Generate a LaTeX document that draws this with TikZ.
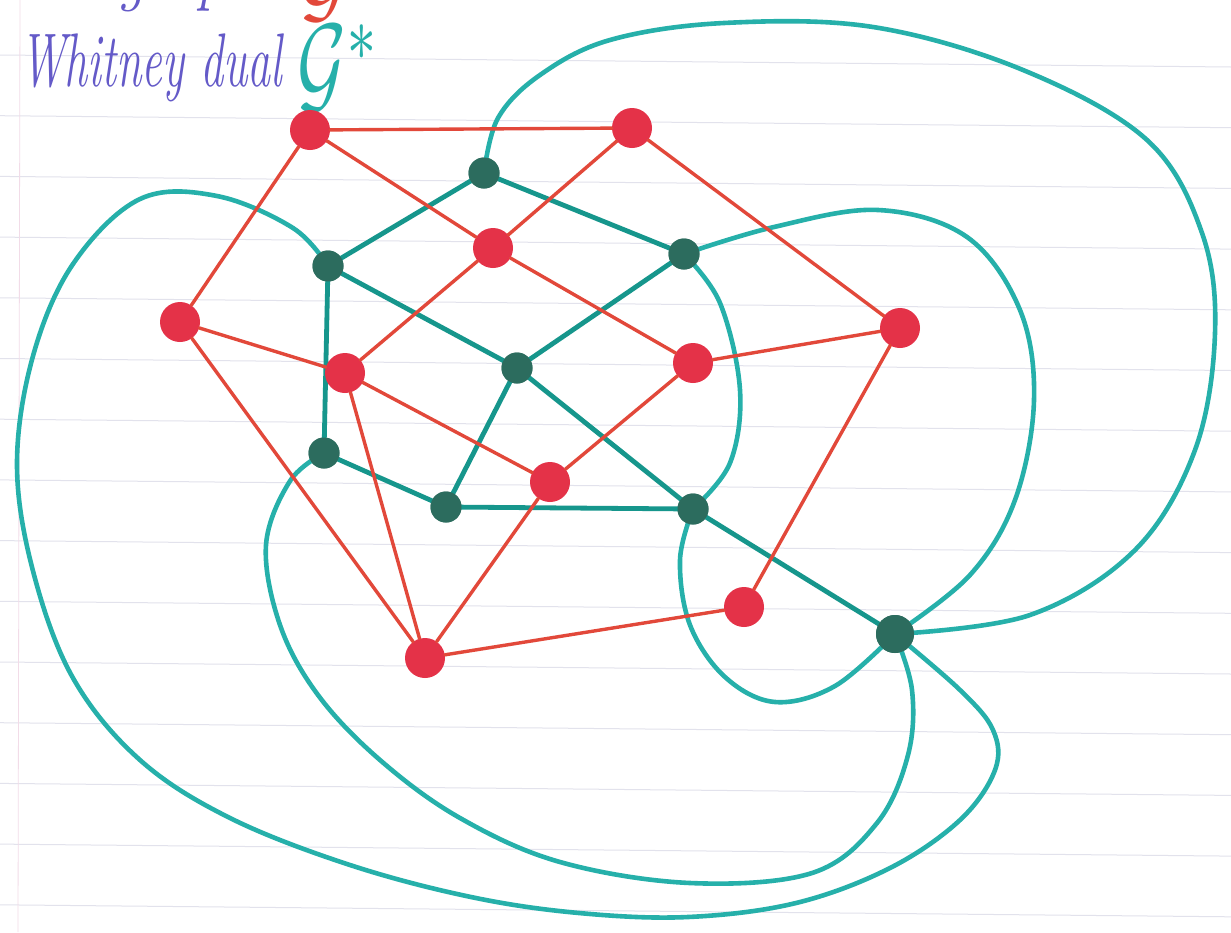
\documentclass[tikz,border=0pt]{standalone}
\usetikzlibrary{calc}
\definecolor{rednode}{RGB}{228,50,72}
\definecolor{redline}{RGB}{226,72,58}
\definecolor{greennode}{RGB}{44,108,94}
\definecolor{tealdark}{RGB}{22,150,140}
\definecolor{teallight}{RGB}{38,176,170}
\definecolor{inkpurple}{RGB}{100,90,200}
\definecolor{ruling}{RGB}{226,226,236}
\definecolor{margin}{RGB}{242,220,232}
\begin{document}
\begin{tikzpicture}[x=1pt,y=-1pt,
  rv/.style={circle,fill=rednode,minimum size=40pt,inner sep=0pt},
  gv/.style={circle,fill=greennode,minimum size=31pt,inner sep=0pt},
  redge/.style={draw=redline,line width=3.4pt,line cap=round},
  gedge/.style={draw=tealdark,line width=4.8pt,line cap=round},
  cedge/.style={draw=teallight,line width=4.6pt,line cap=round,line join=round},
  rule/.style={draw=ruling,line width=1pt},
  hand/.style={inner sep=0pt,outer sep=0pt}]
\useasboundingbox (0,0) rectangle (1231,932);
\fill[white] (0,0) rectangle (1231,932);
% ruled paper
\foreach \k in {0,...,14}{
  \draw[rule] (0,{55+60.7*\k}) -- (1231,{55+60.7*\k+12});
}
\draw[draw=margin,line width=0.8pt] (20,0) -- (18,932);
% texts
\node[hand,text=inkpurple,anchor=base west,font=\fontsize{40}{48}\selectfont\itshape,xscale=1.15,yscale=1.9] (title) at (20,86) {Whitney dual};
\node[hand,text=inkpurple,anchor=base west,font=\fontsize{40}{48}\selectfont\itshape,xscale=1.5,yscale=1.9] (cut) at (118,-4) {graph};
\node[hand,text=redline,anchor=base west,xscale=7.5,yscale=9] (gname) at (300,12) {$\mathcal{G}$};
\node[hand,text=teallight,anchor=base west,xscale=7.5,yscale=11] (gstar) at (297,100) {$\mathcal{G}^{*}$};
% vertex positions
\coordinate (pr1) at (310,130);
\coordinate (pr2) at (632,128);
\coordinate (pr3) at (493,248);
\coordinate (pr4) at (180,322);
\coordinate (pr5) at (345,373);
\coordinate (pr6) at (693,363);
\coordinate (pr7) at (900,328);
\coordinate (pr8) at (550,482);
\coordinate (pr9) at (744,607);
\coordinate (pr10) at (425,658);
\coordinate (pd1) at (484,173);
\coordinate (pd2) at (328,266);
\coordinate (pd3) at (684,254);
\coordinate (pd4) at (517,368);
\coordinate (pd5) at (324,453);
\coordinate (pd6) at (446,507);
\coordinate (pd7) at (693,509);
\coordinate (pd8) at (895,634);
% dual vertices (nodes)
\foreach \i in {1,...,7}{ \node[gv] (d\i) at (pd\i) {}; }
\node[gv,minimum size=38pt] (d8) at (pd8) {};
% curved dual edges
\draw[cedge] plot[smooth,tension=0.6] coordinates {(d1.center) (498,118) (540,75) (610,40) (724,23) (873,27) (1023,70) (1147,140) (1202,233) (1215,333) (1195,450) (1135,550) (1030,615) (d8.center)};
\draw[cedge] plot[smooth,tension=0.6] coordinates {(d3.center) (774,227) (878,210) (967,237) (1020,310) (1034,400) (1015,500) (970,575) (d8.center)};
\draw[cedge] plot[smooth,tension=0.6] coordinates {(d3.center) (720,303) (740,390) (730,463) (d7.center)};
\draw[cedge] plot[smooth,tension=0.6] coordinates {(d7.center) (680,560) (690,625) (725,677) (775,702) (835,686) (d8.center)};
\draw[cedge] plot[smooth,tension=0.6] coordinates {(d5.center) (290,481) (266,545) (280,625) (318,695) (380,760) (460,818) (560,862) (690,883) (812,873) (877,823) (908,755) (912,690) (d8.center)};
\draw[cedge] plot[smooth,tension=0.6] coordinates {(d2.center) (293,228) (217,196) (140,199) (73,264) (33,356) (17,464) (33,571) (73,678) (140,760) (230,818) (350,865) (471,897) (579,913) (688,917) (796,903) (890,868) (960,820) (995,770) (993,730) (960,690) (d8.center)};
% straight dual edges
\foreach \a/\b in {d1/d2,d1/d3,d2/d4,d2/d5,d3/d4,d4/d6,d4/d7,d5/d6,d6/d7,d7/d8}{
  \draw[gedge] (\a.center) -- (\b.center);
}
% primal vertices
\foreach \i in {1,...,10}{ \node[rv] (r\i) at (pr\i) {}; }
% primal edges
\foreach \a/\b in {r1/r2,r1/r4,r1/r3,r2/r3,r2/r7,r3/r5,r3/r6,r4/r5,r4/r10,r5/r8,r5/r10,r6/r7,r6/r8,r7/r9,r8/r10,r9/r10}{
  \draw[redge] (\a) -- (\b);
}
% redraw dual vertices on top
\foreach \i in {1,...,7}{ \fill[greennode] (d\i.center) circle (15.5pt); }
\fill[greennode] (d8.center) circle (19pt);
\end{tikzpicture}
\end{document}
